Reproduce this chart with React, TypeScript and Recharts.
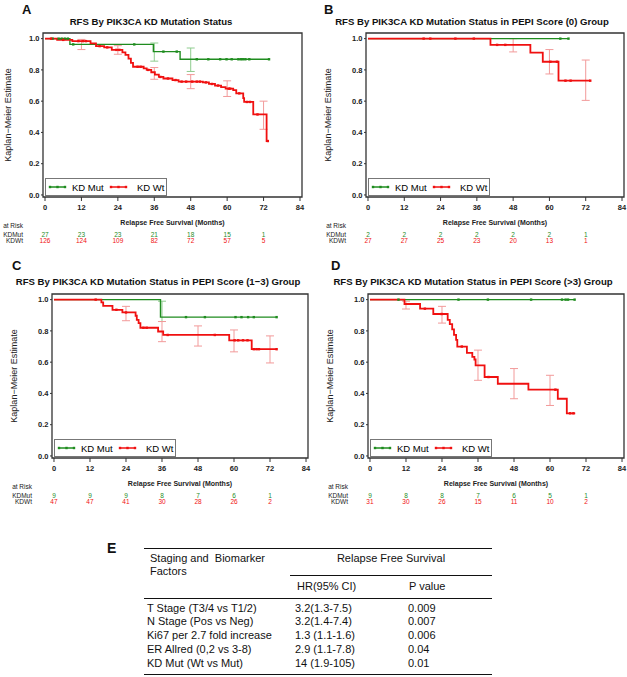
import React from 'react';
import { ComposedChart, Line, Scatter, XAxis, YAxis, ErrorBar, ReferenceArea, Label } from 'recharts';

type Pt = { t: number; s: number };
type CI = { t: number; lo: number; hi: number };

const FONT = '"Liberation Sans", Arial, Helvetica, sans-serif';
const GREEN = '#1f8c1f';
const RED = '#f01010';
const GREEN_CI = '#8fcc8f';
const RED_CI = '#f29a9a';

const xTicks = [0, 12, 24, 36, 48, 60, 72, 84];
const riskTicks = [0, 12, 24, 36, 48, 60, 72];
const yTicks = [0, 0.2, 0.4, 0.6, 0.8, 1.0];
const seriesNames = ['KD Mut', 'KD Wt'];

// ---------- Panel A ----------
const aMut: Pt[] = [
  { t: 0, s: 1 }, { t: 8.2, s: 0.963 }, { t: 35.7, s: 0.917 }, { t: 44.5, s: 0.868 }, { t: 73.8, s: 0.868 },
];
const aWt: Pt[] = [
  { t: 0, s: 1 }, { t: 4, s: 0.992 }, { t: 9, s: 0.984 }, { t: 15, s: 0.97 }, { t: 16.8, s: 0.952 },
  { t: 19.5, s: 0.944 }, { t: 22, s: 0.928 }, { t: 25.5, s: 0.912 }, { t: 26.5, s: 0.896 }, { t: 27.5, s: 0.872 },
  { t: 28.3, s: 0.845 }, { t: 29, s: 0.82 }, { t: 32.5, s: 0.81 }, { t: 33.5, s: 0.8 }, { t: 35, s: 0.785 },
  { t: 36.2, s: 0.77 }, { t: 37.5, s: 0.755 }, { t: 39, s: 0.745 }, { t: 42, s: 0.735 }, { t: 44, s: 0.725 },
  { t: 52, s: 0.72 }, { t: 54, s: 0.71 }, { t: 56, s: 0.7 }, { t: 58, s: 0.69 }, { t: 59.5, s: 0.68 },
  { t: 62, s: 0.67 }, { t: 63, s: 0.65 }, { t: 65.3, s: 0.62 }, { t: 65.6, s: 0.595 }, { t: 68.6, s: 0.515 },
  { t: 73, s: 0.345 }, { t: 73.4, s: 0.345 },
];
const aMutCens = [2.5, 4.5, 5.5, 6.5, 7.5, 9.3, 29.4, 39, 43.4, 50, 53.8, 57.7, 59.8, 61.5, 63.7, 64.5, 65.2, 66, 67.3, 73.8];
const aWtCens = [2, 6, 11, 12.5, 13.5, 18, 20.5, 23.5, 24.5, 30.5, 31.5, 34, 38, 40.5, 43, 45, 46.5, 48.5, 50, 51, 53, 55, 57, 60.5, 61, 64, 66.5, 67.5, 70, 73.4];
const aMutCI: CI[] = [{ t: 36, lo: 0.856, hi: 0.972 }, { t: 48, lo: 0.79, hi: 0.94 }];
const aWtCI: CI[] = [
  { t: 12, lo: 0.93, hi: 0.995 }, { t: 24, lo: 0.9, hi: 0.955 }, { t: 36, lo: 0.74, hi: 0.815 },
  { t: 48, lo: 0.68, hi: 0.77 }, { t: 60, lo: 0.63, hi: 0.73 }, { t: 72, lo: 0.42, hi: 0.6 },
];
const aRiskMut = [27, 23, 23, 21, 18, 15, 1];
const aRiskWt = [126, 124, 109, 82, 72, 57, 5];

// ---------- Panel B ----------
const bMut: Pt[] = [{ t: 0, s: 1 }, { t: 66.3, s: 1 }];
const bWt: Pt[] = [
  { t: 0, s: 1 }, { t: 40.5, s: 0.96 }, { t: 53.7, s: 0.91 }, { t: 57.8, s: 0.852 }, { t: 63, s: 0.731 }, { t: 73.5, s: 0.731 },
];
const bMutCens = [63.6, 66.3];
const bWtCens = [18.4, 20.6, 28.9, 35, 42.7, 45.4, 60.3, 62.5, 65.3, 67, 73.5];
const bMutCI: CI[] = [];
const bWtCI: CI[] = [{ t: 48, lo: 0.915, hi: 1.0 }, { t: 60, lo: 0.774, hi: 0.93 }, { t: 72, lo: 0.605, hi: 0.863 }];
const bRiskMut = [2, 2, 2, 2, 2, 2, 1];
const bRiskWt = [27, 27, 25, 23, 20, 13, 1];

// ---------- Panel C ----------
const cMut: Pt[] = [{ t: 0, s: 1 }, { t: 35.5, s: 0.888 }, { t: 74.2, s: 0.888 }];
const cWt: Pt[] = [
  { t: 0, s: 1 }, { t: 15.8, s: 0.983 }, { t: 16.4, s: 0.96 }, { t: 19.5, s: 0.935 }, { t: 22.8, s: 0.918 },
  { t: 27.2, s: 0.897 }, { t: 27.6, s: 0.87 }, { t: 28.2, s: 0.85 }, { t: 28.8, s: 0.82 }, { t: 34.7, s: 0.796 },
  { t: 36.4, s: 0.774 }, { t: 58.4, s: 0.74 }, { t: 65.9, s: 0.683 }, { t: 74.2, s: 0.683 },
];
const cMutCens = [44, 50.3, 60.5, 62.5, 64.7, 66.6, 74.2];
const cWtCens = [13.9, 20.8, 24, 29.8, 30.9, 37.9, 53.6, 60.2, 61.4, 63, 64.5, 66.6, 67.5, 68.3, 74.2];
const cMutCI: CI[] = [{ t: 36, lo: 0.86, hi: 0.99 }];
const cWtCI: CI[] = [
  { t: 24, lo: 0.865, hi: 0.957 }, { t: 36, lo: 0.731, hi: 0.86 }, { t: 48, lo: 0.703, hi: 0.832 },
  { t: 60, lo: 0.666, hi: 0.806 }, { t: 72, lo: 0.595, hi: 0.768 },
];
const cRiskMut = [9, 9, 9, 8, 7, 6, 1];
const cRiskWt = [47, 47, 41, 30, 28, 26, 2];

// ---------- Panel D ----------
const dMut: Pt[] = [{ t: 0, s: 1 }, { t: 68.2, s: 1 }];
const dWt: Pt[] = [
  { t: 0, s: 1 }, { t: 11.5, s: 0.972 }, { t: 16.7, s: 0.942 }, { t: 21.1, s: 0.908 }, { t: 25.9, s: 0.871 },
  { t: 26.6, s: 0.843 }, { t: 27.4, s: 0.81 }, { t: 28, s: 0.774 }, { t: 28.7, s: 0.742 }, { t: 29.1, s: 0.7 },
  { t: 32.3, s: 0.66 }, { t: 34.1, s: 0.634 }, { t: 34.8, s: 0.617 }, { t: 35.2, s: 0.58 }, { t: 38.2, s: 0.505 },
  { t: 42.6, s: 0.462 }, { t: 52.8, s: 0.424 }, { t: 62.6, s: 0.366 }, { t: 65.6, s: 0.273 }, { t: 68.4, s: 0.273 },
];
const dMutCens = [9.5, 29.5, 39.3, 53.7, 64, 65.2, 66, 68.2];
const dWtCens = [18.3, 23.9, 30.6, 39.5, 61.8, 66.7, 67.8];
const dMutCI: CI[] = [];
const dWtCI: CI[] = [
  { t: 12, lo: 0.94, hi: 0.99 }, { t: 24, lo: 0.85, hi: 0.957 }, { t: 36, lo: 0.484, hi: 0.677 },
  { t: 48, lo: 0.366, hi: 0.559 }, { t: 60, lo: 0.323, hi: 0.516 },
];
const dRiskMut = [9, 8, 8, 7, 6, 5, 1];
const dRiskWt = [31, 30, 26, 15, 11, 10, 2];

// ---------- Table E ----------
const tableFactors = ['T Stage (T3/4 vs T1/2)', 'N Stage (Pos vs Neg)', 'Ki67 per 2.7 fold increase', 'ER Allred (0,2 vs 3-8)', 'KD Mut (Wt vs Mut)'];
const tableHR = ['3.2(1.3-7.5)', '3.2(1.4-7.4)', '1.3 (1.1-1.6)', '2.9 (1.1-7.8)', '14 (1.9-105)'];
const tableP = ['0.009', '0.007', '0.006', '0.04', '0.01'];

const X_DOMAIN: [number, number] = [-0.66, 84.66];
const Y_DOMAIN: [number, number] = [-0.013, 1.036];

function stepAt(steps: Pt[], t: number) {
  let s = steps[0].s;
  for (const p of steps) if (p.t <= t) s = p.s;
  return s;
}
function censorPts(steps: Pt[], times: number[]) {
  return times.map((t) => ({ t, s: stepAt(steps, t) }));
}
function ciPts(steps: Pt[], cis: CI[]) {
  return cis.map((c) => {
    const s = stepAt(steps, c.t);
    return { t: c.t, s, e: [s - c.lo, c.hi - s] };
  });
}

const marker = (color: string) => (p: any) => (
  <rect x={p.cx - 1.2} y={p.cy - 1.2} width={2.4} height={2.4} fill={color} />
);

type PanelProps = {
  ox: number; oy: number; W: number; right: number; ylabOff: number;
  mut: Pt[]; wt: Pt[]; mutC: number[]; wtC: number[]; mutCI: CI[]; wtCI: CI[];
  riskMut: number[]; riskWt: number[];
};

function LegendBox() {
  return (
    <div style={{ position: 'absolute', left: 45, top: 178, width: 120, height: 16, border: '1px solid #777', background: '#fff', fontFamily: FONT, fontSize: 9.5, color: '#111' }}>
      <svg width={120} height={16} style={{ position: 'absolute', left: 0, top: 0 }}>
        <line x1={3} x2={20} y1={8} y2={8} stroke={GREEN} strokeWidth={1.5} />
        {[4, 11.5, 19].map((x) => <rect key={x} x={x - 1.2} y={6.8} width={2.4} height={2.4} fill={GREEN} />)}
        <text x={26} y={11.5}>{seriesNames[0]}</text>
        <line x1={64} x2={81} y1={8} y2={8} stroke={RED} strokeWidth={1.5} />
        {[65, 72.5, 80].map((x) => <rect key={x} x={x - 1.2} y={6.8} width={2.4} height={2.4} fill={RED} />)}
        <text x={91} y={11.5}>{seriesNames[1]}</text>
      </svg>
    </div>
  );
}

function Panel(props: PanelProps) {
  const { ox, oy, W, right, ylabOff, mut, wt, mutC, wtC, mutCI, wtCI, riskMut, riskWt } = props;
  const H = 246;
  const tickStyle = { fontSize: 7.5, fontWeight: 'bold' as const, fill: '#222', fontFamily: FONT };
  const rowLabel = (text: string, y: number, color = '#222') => (
    <div style={{ position: 'absolute', right: W - 23, top: y - 4.5, fontFamily: FONT, fontSize: 6.5, lineHeight: '9px', color, whiteSpace: 'nowrap' }}>{text}</div>
  );
  return (
    <div style={{ position: 'absolute', left: ox, top: oy, width: W, height: H }}>
      <ComposedChart width={W} height={H} margin={{ top: 33, right, left: 0, bottom: 5 }} style={{ fontFamily: FONT }}>
        <XAxis dataKey="t" type="number" domain={X_DOMAIN} ticks={xTicks} allowDataOverflow interval={0}
          axisLine={false} tickLine={{ stroke: '#333' }} tickSize={4} tickMargin={3.5} height={30} tick={tickStyle}>
          <Label value="Relapse Free Survival (Months)" position="insideBottom" offset={2}
            style={{ fontSize: 7, fontWeight: 'bold', fill: '#222', fontFamily: FONT }} />
        </XAxis>
        <XAxis xAxisId="rm" dataKey="t" type="number" domain={X_DOMAIN} ticks={riskTicks} allowDataOverflow interval={0}
          axisLine={false} tickLine={false} tickSize={0} tickMargin={5.5} height={7}
          tick={{ fontSize: 6.5, fill: GREEN, fontFamily: FONT }}
          tickFormatter={(v: number) => String(riskMut[riskTicks.indexOf(v)])} />
        <XAxis xAxisId="rw" dataKey="t" type="number" domain={X_DOMAIN} ticks={riskTicks} allowDataOverflow interval={0}
          axisLine={false} tickLine={false} tickSize={0} tickMargin={4.5} height={7}
          tick={{ fontSize: 6.5, fill: RED, fontFamily: FONT }}
          tickFormatter={(v: number) => String(riskWt[riskTicks.indexOf(v)])} />
        <YAxis dataKey="s" type="number" domain={Y_DOMAIN} ticks={yTicks} allowDataOverflow interval={0} width={43}
          axisLine={false} tickLine={{ stroke: '#333' }} tickSize={2} tickMargin={1.5} tick={tickStyle}
          tickFormatter={(v: number) => v.toFixed(1)}>
          <Label value="Kaplan−Meier Estimate" angle={-90} position="insideLeft" offset={ylabOff}
            style={{ textAnchor: 'middle', fontSize: 9, fill: '#222', fontFamily: FONT }} />
        </YAxis>
        <ReferenceArea x1={X_DOMAIN[0]} x2={X_DOMAIN[1]} y1={Y_DOMAIN[0]} y2={Y_DOMAIN[1]} fill="none" stroke="#333" strokeWidth={1.3} ifOverflow="visible" />
        <Scatter data={ciPts(mut, mutCI)} shape={() => <g />} isAnimationActive={false}>
          <ErrorBar dataKey="e" direction="y" width={4} stroke={GREEN_CI} strokeWidth={1} />
        </Scatter>
        <Scatter data={ciPts(wt, wtCI)} shape={() => <g />} isAnimationActive={false}>
          <ErrorBar dataKey="e" direction="y" width={4} stroke={RED_CI} strokeWidth={1} />
        </Scatter>
        <Line data={mut} dataKey="s" name={seriesNames[0]} type="stepAfter" stroke={GREEN} strokeWidth={1.4} dot={false} isAnimationActive={false} />
        <Line data={wt} dataKey="s" name={seriesNames[1]} type="stepAfter" stroke={RED} strokeWidth={1.8} dot={false} isAnimationActive={false} />
        <Scatter data={censorPts(mut, mutC)} shape={marker(GREEN)} isAnimationActive={false} />
        <Scatter data={censorPts(wt, wtC)} shape={marker(RED)} isAnimationActive={false} />
      </ComposedChart>
      <LegendBox />
      {rowLabel('at Risk', 225.5)}
      {rowLabel('KDMut', 234.8)}
      {rowLabel('KDWt', 240.8)}
    </div>
  );
}

const letterStyle: React.CSSProperties = { position: 'absolute', fontFamily: FONT, fontSize: 13, fontWeight: 'bold', lineHeight: '13px', color: '#111' };
const titleStyle: React.CSSProperties = { position: 'absolute', fontFamily: FONT, fontSize: 9.6, fontWeight: 'bold', lineHeight: '11px', color: '#111', whiteSpace: 'nowrap', textAlign: 'center', width: 320 };
const tblText: React.CSSProperties = { position: 'absolute', fontFamily: FONT, fontSize: 11, lineHeight: '14px', color: '#111', whiteSpace: 'pre' };

export default function App() {
  const rowY = [607.5, 621, 635, 649, 662.5];
  return (
    <div style={{ position: 'absolute', left: 0, top: 0, width: 627, height: 677, background: '#fff', overflow: 'hidden' }}>
      <div style={{ ...letterStyle, left: 22, top: 3 }}>A</div>
      <div style={{ ...titleStyle, left: 151 - 160, top: 15.5 }}>RFS By PIK3CA KD Mutation Status</div>
      <div style={{ ...letterStyle, left: 324, top: 3 }}>B</div>
      <div style={{ ...titleStyle, left: 472 - 160, top: 15.5 }}>RFS By PIK3CA KD Mutation Status in PEPI Score (0) Group</div>
      <div style={{ ...letterStyle, left: 12, top: 259 }}>C</div>
      <div style={{ ...titleStyle, left: 158 - 160, top: 276 }}>RFS By PIK3CA KD Mutation Status in PEPI Score (1−3) Group</div>
      <div style={{ ...letterStyle, left: 331, top: 259 }}>D</div>
      <div style={{ ...titleStyle, left: 473 - 160, top: 276 }}>RFS By PIK3CA KD Mutation Status in PEPI Score (&gt;3) Group</div>

      <Panel ox={0} oy={0} W={310} right={8} ylabOff={8} mut={aMut} wt={aWt} mutC={aMutCens} wtC={aWtCens} mutCI={aMutCI} wtCI={aWtCI} riskMut={aRiskMut} riskWt={aRiskWt} />
      <Panel ox={323} oy={0} W={304} right={3} ylabOff={5} mut={bMut} wt={bWt} mutC={bMutCens} wtC={bWtCens} mutCI={bMutCI} wtCI={bWtCI} riskMut={bRiskMut} riskWt={bRiskWt} />
      <Panel ox={9} oy={261} W={310} right={11} ylabOff={5} mut={cMut} wt={cWt} mutC={cMutCens} wtC={cWtCens} mutCI={cMutCI} wtCI={cWtCI} riskMut={cRiskMut} riskWt={cRiskWt} />
      <Panel ox={325} oy={261} W={302} right={3} ylabOff={5} mut={dMut} wt={dWt} mutC={dMutCens} wtC={dWtCens} mutCI={dMutCI} wtCI={dWtCI} riskMut={dRiskMut} riskWt={dRiskWt} />

      {/* Table E */}
      <div style={{ ...letterStyle, left: 107, top: 542, fontSize: 14 }}>E</div>
      <div style={{ position: 'absolute', left: 144, top: 548, width: 348, height: 0, borderTop: '1.5px solid #111' }} />
      <div style={{ ...tblText, left: 150, top: 551 }}>{'Staging and  Biomarker'}</div>
      <div style={{ ...tblText, left: 150, top: 564 }}>Factors</div>
      <div style={{ ...tblText, left: 291, top: 551, width: 200, textAlign: 'center' }}>Relapse Free Survival</div>
      <div style={{ position: 'absolute', left: 290, top: 575, width: 202, height: 0, borderTop: '1px solid #111' }} />
      <div style={{ ...tblText, left: 297, top: 579 }}>HR(95% CI)</div>
      <div style={{ ...tblText, left: 409, top: 579 }}>P value</div>
      <div style={{ position: 'absolute', left: 144, top: 598, width: 348, height: 0, borderTop: '1px solid #111' }} />
      {tableFactors.map((f, i) => (
        <React.Fragment key={f}>
          <div style={{ ...tblText, left: 147, top: rowY[i] - 7 }}>{f}</div>
          <div style={{ ...tblText, left: 295, top: rowY[i] - 7 }}>{tableHR[i]}</div>
          <div style={{ ...tblText, left: 408, top: rowY[i] - 7 }}>{tableP[i]}</div>
        </React.Fragment>
      ))}
      <div style={{ position: 'absolute', left: 144, top: 674, width: 348, height: 0, borderTop: '1.5px solid #111' }} />
    </div>
  );
}
